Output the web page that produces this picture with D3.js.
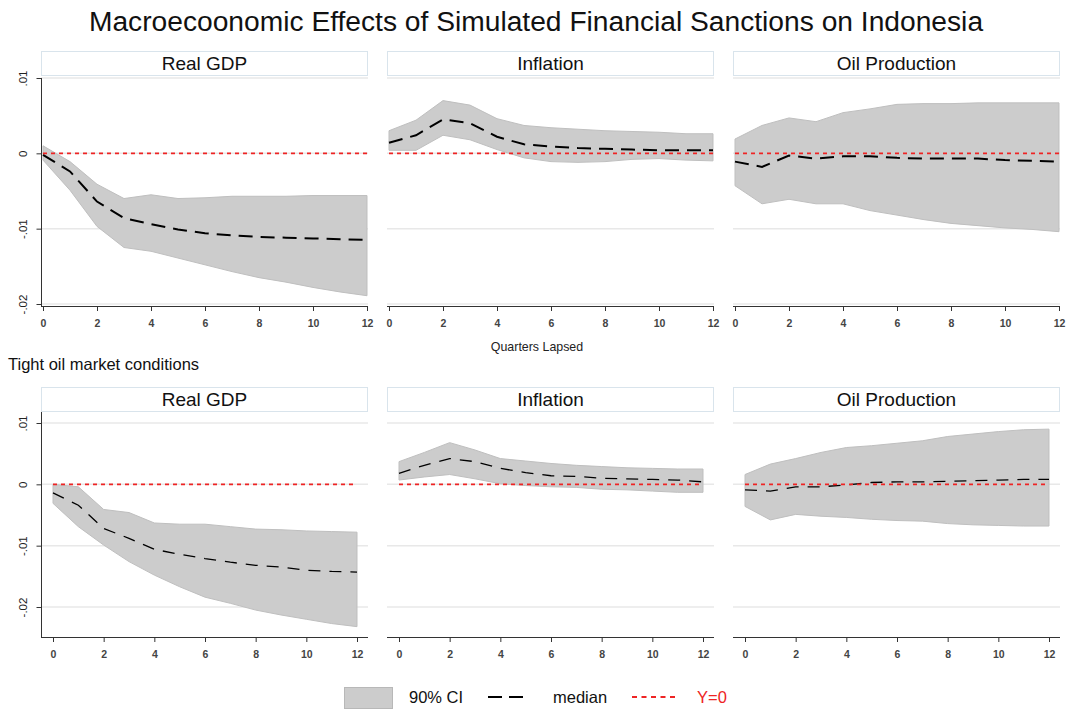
<!DOCTYPE html>
<html>
<head>
<meta charset="utf-8">
<script src="https://cdn.jsdelivr.net/npm/d3@7"></script>
<style>
  body { margin: 0; background: #fff; }
  svg { display: block; font-family: Arial, "Liberation Sans", sans-serif; }
</style>
</head>
<body>
<svg id="chart" width="1070" height="710"></svg>
<script>
// Impulse responses over 12 quarters: median and 90% credible band
const quarters = [0, 1, 2, 3, 4, 5, 6, 7, 8, 9, 10, 11, 12];
const panelTitles = ["Real GDP", "Inflation", "Oil Production"];
const xTicks = [0, 2, 4, 6, 8, 10, 12];
const yTicks = [0.01, 0, -0.01, -0.02];
const yTickLabels = [".01", "0", "-.01", "-.02"];

// Baseline scenario
const baseGdpMed = [-0.0002, -0.0024, -0.0064, -0.0086, -0.0094, -0.0101, -0.0106, -0.0109, -0.0111, -0.0112, -0.0113, -0.0114, -0.0115];
const baseGdpHi  = [0.0010, -0.0011, -0.0041, -0.0060, -0.0055, -0.0060, -0.0059, -0.0057, -0.0057, -0.0057, -0.0056, -0.0056, -0.0056];
const baseGdpLo  = [-0.0009, -0.0049, -0.0097, -0.0125, -0.0130, -0.0139, -0.0148, -0.0157, -0.0165, -0.0171, -0.0178, -0.0184, -0.0189];

const baseInfMed = [0.0014, 0.0024, 0.0045, 0.0040, 0.0022, 0.0012, 0.0009, 0.0007, 0.0006, 0.0005, 0.0004, 0.0004, 0.0004];
const baseInfHi  = [0.0030, 0.0044, 0.0070, 0.0064, 0.0046, 0.0037, 0.0034, 0.0032, 0.0030, 0.0029, 0.0028, 0.0026, 0.0026];
const baseInfLo  = [0.0004, 0.0004, 0.0024, 0.0018, 0.0005, -0.0006, -0.0011, -0.0012, -0.0011, -0.0008, -0.0007, -0.0009, -0.0010];

const baseOilMed = [-0.0011, -0.0018, -0.0003, -0.0007, -0.0004, -0.0004, -0.0006, -0.0007, -0.0007, -0.0007, -0.0009, -0.0010, -0.0011];
const baseOilHi  = [0.0019, 0.0037, 0.0047, 0.0042, 0.0054, 0.0059, 0.0065, 0.0066, 0.0066, 0.0067, 0.0067, 0.0067, 0.0067];
const baseOilLo  = [-0.0043, -0.0067, -0.0061, -0.0067, -0.0067, -0.0076, -0.0082, -0.0088, -0.0093, -0.0096, -0.0099, -0.0101, -0.0104];

// Tight oil market conditions
const tightGdpMed = [-0.0014, -0.0034, -0.0072, -0.0088, -0.0106, -0.0114, -0.0121, -0.0127, -0.0132, -0.0135, -0.0140, -0.0142, -0.0143];
const tightGdpHi  = [0.0000, -0.0004, -0.0041, -0.0046, -0.0063, -0.0065, -0.0065, -0.0069, -0.0073, -0.0074, -0.0076, -0.0077, -0.0078];
const tightGdpLo  = [-0.0031, -0.0069, -0.0099, -0.0126, -0.0148, -0.0167, -0.0184, -0.0194, -0.0205, -0.0213, -0.0220, -0.0227, -0.0232];

const tightInfMed = [0.0018, 0.0031, 0.0042, 0.0037, 0.0026, 0.0019, 0.0014, 0.0013, 0.0010, 0.0009, 0.0008, 0.0007, 0.0004];
const tightInfHi  = [0.0037, 0.0052, 0.0068, 0.0056, 0.0042, 0.0038, 0.0034, 0.0031, 0.0029, 0.0027, 0.0026, 0.0025, 0.0025];
const tightInfLo  = [0.0007, 0.0012, 0.0016, 0.0009, 0.0001, -0.0002, -0.0004, -0.0005, -0.0008, -0.0009, -0.0011, -0.0013, -0.0013];

const tightOilMed = [-0.0009, -0.0011, -0.0004, -0.0004, -0.0001, 0.0003, 0.0004, 0.0004, 0.0005, 0.0006, 0.0007, 0.0008, 0.0008];
const tightOilHi  = [0.0016, 0.0033, 0.0042, 0.0052, 0.0060, 0.0063, 0.0067, 0.0071, 0.0078, 0.0082, 0.0086, 0.0089, 0.0090];
const tightOilLo  = [-0.0036, -0.0058, -0.0049, -0.0052, -0.0054, -0.0057, -0.0059, -0.0060, -0.0064, -0.0066, -0.0067, -0.0068, -0.0068];

const baseSeries = [
  { med: baseGdpMed, hi: baseGdpHi, lo: baseGdpLo },
  { med: baseInfMed, hi: baseInfHi, lo: baseInfLo },
  { med: baseOilMed, hi: baseOilHi, lo: baseOilLo }
];
const tightSeries = [
  { med: tightGdpMed, hi: tightGdpHi, lo: tightGdpLo },
  { med: tightInfMed, hi: tightInfHi, lo: tightInfLo },
  { med: tightOilMed, hi: tightOilHi, lo: tightOilLo }
];

// ---- layout ----
const svg = d3.select("#chart");
const FILL = "#cccccc", BAND_STROKE = "#bfbfbf", ZERO = "#ee2424", AXIS = "#333333", GRID = "#e8e8e8";
const panelLeft = [41, 387, 733];
const panelW = 327;

const rows = [
  { series: baseSeries, stripTop: 51, plotTop: 76, plotBot: 306, yHi: 78, yLo: 304,
    x0: 2, x12: 326, medW: 2, medDash: "14,8", tickLabelY: 327 },
  { series: tightSeries, stripTop: 387, plotTop: 412, plotBot: 637, yHi: 423, yLo: 607,
    x0: 12, x12: 316, medW: 1.3, medDash: "12,9", tickLabelY: 658 }
];

svg.append("text")
  .attr("x", 536).attr("y", 31)
  .attr("text-anchor", "middle")
  .attr("font-size", 28.2)
  .attr("fill", "#111")
  .text("Macroecoonomic Effects of Simulated Financial Sanctions on Indonesia");

rows.forEach((row, ri) => {
  const y = d3.scaleLinear().domain([0.01, -0.02]).range([row.yHi, row.yLo]);

  row.series.forEach((s, pi) => {
    const L = panelLeft[pi];
    const x = d3.scaleLinear().domain([0, 12]).range([L + row.x0, L + row.x12]);
    const g = svg.append("g");

    // gridlines
    g.selectAll("line.grid").data(yTicks).join("line")
      .attr("x1", L).attr("x2", L + panelW)
      .attr("y1", d => y(d)).attr("y2", d => y(d))
      .attr("stroke", GRID).attr("stroke-width", 1.5);

    // strip header
    g.append("rect")
      .attr("x", L + 0.5).attr("y", row.stripTop + 0.5)
      .attr("width", panelW - 1).attr("height", row.plotTop - row.stripTop - 1)
      .attr("fill", "#ffffff").attr("stroke", "#d9e4ec").attr("stroke-width", 1);
    g.append("text")
      .attr("x", L + panelW / 2).attr("y", row.stripTop + 19)
      .attr("text-anchor", "middle").attr("font-size", 19).attr("fill", "#111")
      .text(panelTitles[pi]);

    // 90% band
    const pts = quarters.map((q, i) => ({ q, lo: s.lo[i], hi: s.hi[i], med: s.med[i] }));
    g.append("path").datum(pts)
      .attr("d", d3.area().x(d => x(d.q)).y0(d => y(d.lo)).y1(d => y(d.hi)))
      .attr("fill", FILL).attr("stroke", BAND_STROKE).attr("stroke-width", 1);

    // median
    g.append("path").datum(pts)
      .attr("d", d3.line().x(d => x(d.q)).y(d => y(d.med)))
      .attr("fill", "none").attr("stroke", "#000")
      .attr("stroke-width", row.medW).attr("stroke-dasharray", row.medDash);

    // zero line
    g.append("line")
      .attr("x1", x(0)).attr("x2", x(12))
      .attr("y1", y(0)).attr("y2", y(0))
      .attr("stroke", ZERO).attr("stroke-width", 1.8).attr("stroke-dasharray", "4,4");

    // x axis
    const xa = g.append("g").attr("transform", `translate(0,${row.plotBot})`)
      .call(d3.axisBottom(x).tickValues(xTicks).tickSize(5).tickSizeOuter(0).tickPadding(6));
    xa.select(".domain").attr("d", `M${L},0.5H${L + panelW}`).attr("stroke", AXIS);
    xa.selectAll(".tick line").attr("stroke", AXIS);
    xa.selectAll(".tick text")
      .attr("font-size", 10.5).attr("font-weight", "bold").attr("fill", "#444").attr("font-family", null)
      .attr("dy", null).attr("y", row.tickLabelY - row.plotBot);

    // y axis on the first column only
    if (pi === 0) {
      const ya = g.append("g").attr("transform", `translate(${L + 0.5},0)`)
        .call(d3.axisLeft(y).tickValues(yTicks).tickFormat((d, i) => yTickLabels[i])
          .tickSize(5).tickSizeOuter(0).tickPadding(0));
      ya.select(".domain").attr("d", `M0,${ri === 0 ? row.yHi : row.plotTop}V${row.plotBot}`).attr("stroke", AXIS);
      ya.selectAll(".tick line").attr("stroke", AXIS);
      ya.selectAll(".tick text")
        .attr("font-size", 11.5).attr("fill", "#222").attr("font-family", null)
        .attr("x", null).attr("dy", null)
        .attr("text-anchor", "middle")
        .attr("transform", "translate(-15,0) rotate(-90)");
    }
  });
});

// shared x-axis title and subtitle
svg.append("text")
  .attr("x", 537).attr("y", 351)
  .attr("text-anchor", "middle").attr("font-size", 12.4).attr("fill", "#222")
  .text("Quarters Lapsed");

svg.append("text")
  .attr("x", 8).attr("y", 370)
  .attr("font-size", 16.5).attr("fill", "#111")
  .text("Tight oil market conditions");

// legend
const lg = svg.append("g");
lg.append("rect").attr("x", 344.5).attr("y", 687.5).attr("width", 48).attr("height", 21)
  .attr("fill", FILL).attr("stroke", "#b8b8b8");
lg.append("text").attr("x", 409).attr("y", 703).attr("font-size", 16.5).attr("fill", "#111").text("90% CI");
lg.append("line").attr("x1", 488).attr("x2", 530).attr("y1", 697).attr("y2", 697)
  .attr("stroke", "#000").attr("stroke-width", 2).attr("stroke-dasharray", "14,7");
lg.append("text").attr("x", 553).attr("y", 703).attr("font-size", 16.5).attr("fill", "#111").text("median");
lg.append("line").attr("x1", 632).attr("x2", 676).attr("y1", 697).attr("y2", 697)
  .attr("stroke", ZERO).attr("stroke-width", 1.8).attr("stroke-dasharray", "5,4.5");
lg.append("text").attr("x", 697).attr("y", 703).attr("font-size", 16.5).attr("fill", ZERO).text("Y=0");
</script>
</body>
</html>
